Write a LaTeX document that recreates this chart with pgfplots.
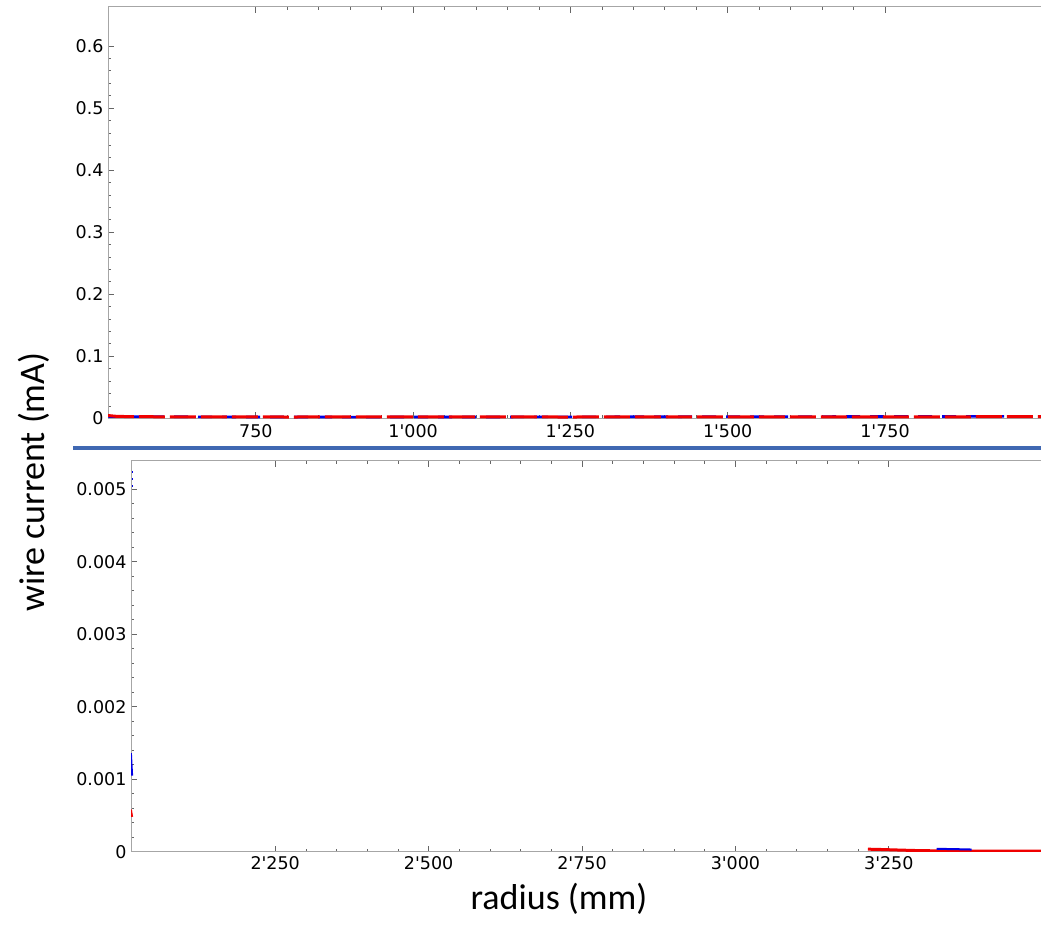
\documentclass[border=0pt]{standalone}
\usepackage{pgfplots}
\pgfplotsset{compat=1.18}
\usepackage{fontspec}
\newfontfamily\tickfont{DejaVu Sans}
\newfontfamily\labelfont{Carlito}
\definecolor{SepBlue}{HTML}{4068B2}
\definecolor{CurveRed}{HTML}{F00000}
\definecolor{CurveBlue}{HTML}{0000E6}

\pgfplotsset{
  panel/.style={
    scale only axis,
    axis x line*=box, axis y line*=left,
    axis line style={draw=gray!70, line width=0.9pt},
    tick style={draw=gray!80!black, line width=0.7pt},
    major tick length=6pt, minor tick length=3pt,
    minor tick num=4,
    tick align=inside,
    tick label style={font=\tickfont\fontsize{17.5}{17.5}\selectfont},
    /pgf/number format/assume math mode=true,
    scaled ticks=false,
    yticklabel style={xshift=-1pt},
  },
}

\begin{document}
\begin{tikzpicture}
\useasboundingbox (0,0) rectangle (1041pt,-940pt);
\begin{scope}
\clip (0,0) rectangle (1041pt,-940pt);

% upper panel
\begin{axis}[panel,
  at={(108pt,-418.3pt)}, anchor=south west,
  width=933pt, height=411.6pt,
  xmin=515, xmax=1998, ymin=0, ymax=0.6633,
  xtick={750,1000,1250,1500,1750},
  xticklabels={750,1'000,1'250,1'500,1'750},
  xticklabel style={yshift=-3pt},
  ytick={0,0.1,0.2,0.3,0.4,0.5,0.6},
  yticklabels={0,0.1,0.2,0.3,0.4,0.5,0.6},
]
\addplot[CurveBlue, line width=2.6pt, dash pattern=on 14pt off 10pt, dash phase=6pt] coordinates {
 (515,0.0030) (700,0.0022) (900,0.0020) (1100,0.0021) (1300,0.0024) (1500,0.0027) (1750,0.0029) (1998,0.0031)};
\addplot[CurveRed, line width=3pt, dash pattern=on 26pt off 5pt] coordinates {
 (515,0.0045) (530,0.0030) (600,0.0024) (800,0.0021) (1000,0.0022) (1250,0.0021) (1500,0.0023) (1750,0.0024) (1998,0.0026)};
\end{axis}

% separator
\draw[SepBlue, line width=3.8pt] (73pt,-447.8pt) -- (1045pt,-447.8pt);

% lower panel
\begin{axis}[panel,
  at={(131pt,-851.7pt)}, anchor=south west,
  width=910pt, height=391pt,
  xmin=2015, xmax=3498, ymin=0, ymax=0.005395,
  xtick={2250,2500,2750,3000,3250},
  xticklabels={2'250,2'500,2'750,3'000,3'250},
  xticklabel style={yshift=-1pt},
  ytick={0,0.001,0.002,0.003,0.004,0.005},
  yticklabels={0,0.001,0.002,0.003,0.004,0.005},
]
\addplot[CurveBlue, line width=3pt] coordinates {(2014,0.00136) (2016,0.00105)};
\addplot[CurveBlue, line width=1.2pt, dash pattern=on 2pt off 5pt] coordinates {(2017,0.00525) (2017,0.00498)};
\addplot[CurveRed, line width=3pt] coordinates {(2014,0.00058) (2016,0.00048)};
\addplot[CurveRed, line width=3pt] coordinates {
 (3216,0.000035) (3240,0.000030) (3270,0.000022) (3300,0.000015) (3350,0.000010) (3400,0.000008) (3498,0.000008)};
\addplot[CurveBlue, line width=2pt] coordinates {(3328,0.000040) (3360,0.000035) (3385,0.000030)};
\end{axis}

% shared labels
\node[rotate=90, font=\labelfont\fontsize{36}{36}\selectfont] at (34pt,-482pt) {wire current (mA)};
\node[font=\labelfont\fontsize{36}{36}\selectfont] at (559pt,-899pt) {radius (mm)};
\end{scope}
\end{tikzpicture}
\end{document}
